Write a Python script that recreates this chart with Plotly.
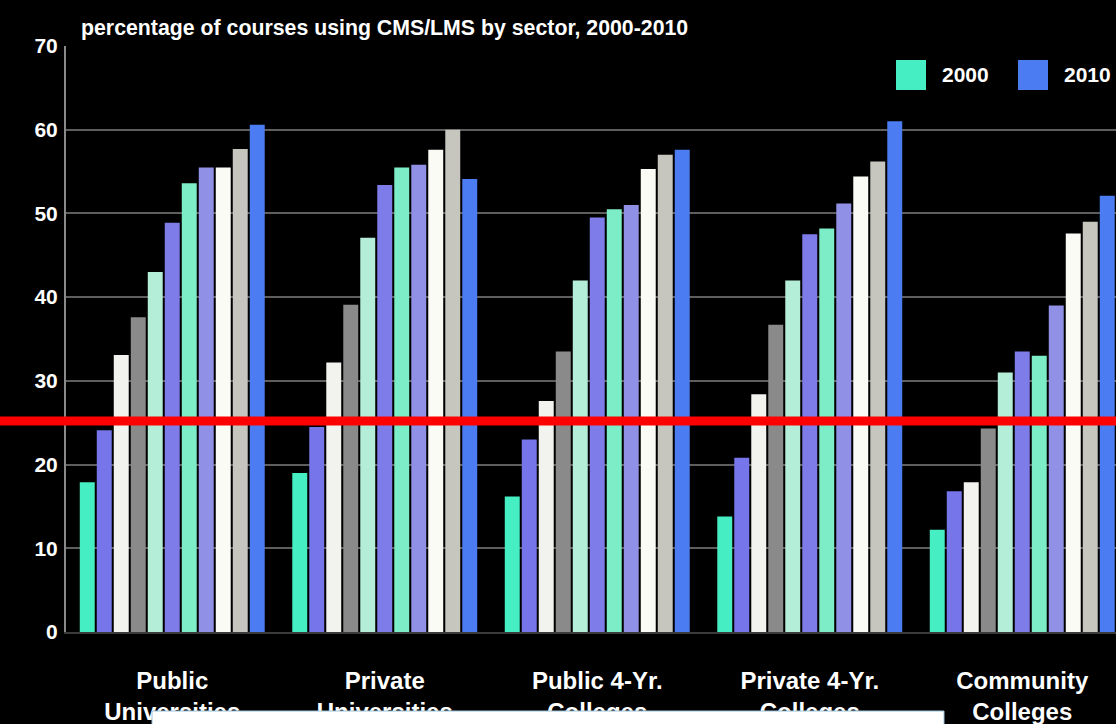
import plotly.graph_objects as go

sectors = ["Public<br>Universities", "Private<br>Universities", "Public 4-Yr.<br>Colleges",
           "Private 4-Yr.<br>Colleges", "Community<br>Colleges"]
years = [str(y) for y in range(2000, 2011)]

# values per year across the five sectors
v2000 = [17.9, 19.0, 16.2, 13.8, 12.2]
v2001 = [24.1, 24.5, 23.0, 20.8, 16.8]
v2002 = [33.1, 32.2, 27.6, 28.4, 17.9]
v2003 = [37.6, 39.1, 33.5, 36.7, 24.3]
v2004 = [43.0, 47.1, 42.0, 42.0, 31.0]
v2005 = [48.9, 53.4, 49.5, 47.5, 33.5]
v2006 = [53.6, 55.5, 50.5, 48.2, 33.0]
v2007 = [55.5, 55.8, 51.0, 51.2, 39.0]
v2008 = [55.5, 57.6, 55.3, 54.4, 47.6]
v2009 = [57.7, 60.0, 57.0, 56.2, 49.0]
v2010 = [60.6, 54.1, 57.6, 61.0, 52.1]
values = [v2000, v2001, v2002, v2003, v2004, v2005, v2006, v2007, v2008, v2009, v2010]

colors = ["#46eec4", "#7676ea", "#f2f2ee", "#8a8a8a", "#b4eed8", "#7e7ce8",
          "#7cedc6", "#9090e6", "#fbfbf6", "#c6c6bf", "#4c7cf2"]

red_line_value = 25.2
y_max = 70

fig = go.Figure()
for yr, vals, c in zip(years, values, colors):
    fig.add_trace(go.Bar(x=sectors, y=vals, name=yr, marker=dict(color=c, line=dict(width=0)),
                         showlegend=False))

W, H = 1116, 724
ml, mr, mt, mb = 66, 0, 46, 92
pw = W - ml - mr
ph = H - mt - mb

def px(x):
    return (x - ml) / pw

def py(y):
    return (H - mb - y) / ph

shapes = []
annotations = []
# legend swatches
for yr, c, x0, x1, tx in [("2000", colors[0], 896, 926, 940), ("2010", colors[-1], 1018, 1048, 1062)]:
    shapes.append(dict(type="rect", xref="paper", yref="paper", x0=px(x0), x1=px(x1),
                       y0=py(90), y1=py(60), fillcolor=c, line=dict(width=0), layer="above"))
    annotations.append(dict(text=yr, xref="paper", yref="paper", x=px(tx), y=py(74),
                            xanchor="left", yanchor="middle", showarrow=False,
                            font=dict(size=21, color="white", family="Liberation Sans", weight="bold")))

# title
annotations.append(dict(text="percentage of courses using CMS/LMS by sector, 2000-2010",
                        xref="paper", yref="paper", x=px(79), y=py(28), xanchor="left",
                        yanchor="middle", showarrow=False,
                        font=dict(size=21.3, color="white", family="Liberation Sans", weight="bold")))

# red horizontal line
shapes.append(dict(type="line", xref="paper", yref="paper", x0=px(-10), x1=px(W + 10),
                   y0=red_line_value / y_max, y1=red_line_value / y_max,
                   line=dict(color="#ff0000", width=9), layer="above"))
# white box covering bottom labels
shapes.append(dict(type="rect", xref="paper", yref="paper", x0=px(152), x1=px(944),
                   y0=py(740), y1=py(711), fillcolor="white",
                   line=dict(color="#9cc4dc", width=1), layer="above"))

fig.update_layout(
    width=W, height=H,
    margin=dict(l=ml, r=mr, t=mt, b=mb),
    paper_bgcolor="black", plot_bgcolor="black",
    barmode="group", bargap=0.12, bargroupgap=0.12,
    shapes=shapes, annotations=annotations,
    font=dict(family="Liberation Sans", color="white"),
)
fig.update_xaxes(range=[-0.5, -0.5 + pw / 212.5], showgrid=False, showline=True,
                 linecolor="#3a3a3a", linewidth=2, ticks="", ticklabelstandoff=26,
                 tickfont=dict(size=24, color="white", family="Liberation Sans", weight="bold"))
fig.update_yaxes(range=[0, y_max], dtick=10, showgrid=True, gridcolor="#5e5e5e", gridwidth=2,
                 showline=True, linecolor="#8a8a8a", linewidth=2, zeroline=False,
                 ticks="", ticklabelstandoff=2,
                 tickfont=dict(size=21, color="white", family="Liberation Sans", weight="bold"))

fig.write_html("out.html", config={"displayModeBar": False},
               post_script="document.body.style.margin='0';")
